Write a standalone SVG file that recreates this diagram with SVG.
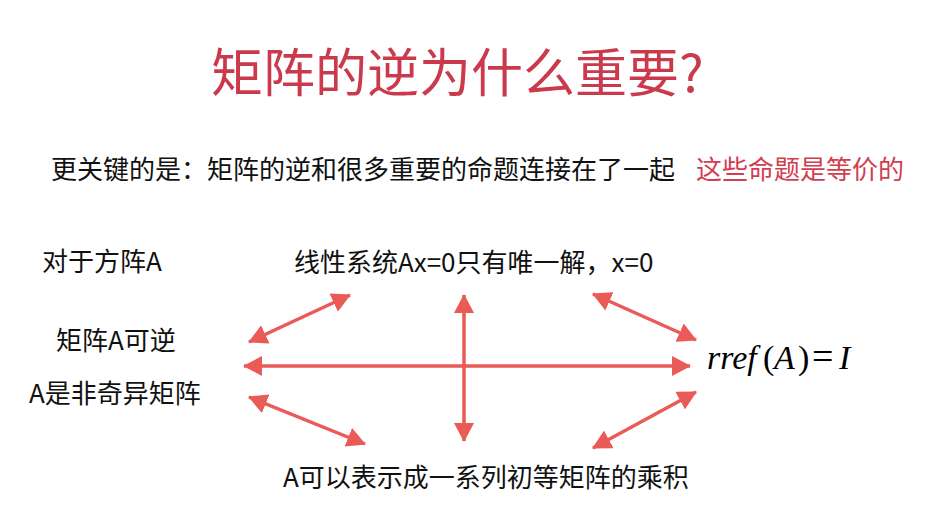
<svg xmlns="http://www.w3.org/2000/svg" width="938" height="514" viewBox="0 0 938 514">
<style>
.cjk{font-family:"Noto Sans CJK SC","Noto Sans",sans-serif;font-size:26px;fill:#111}
.title{font-family:"Noto Sans CJK SC","Noto Sans",sans-serif;font-size:52px;fill:#CB3A4C}
.red{fill:#D23D50}
.math{font-family:"Liberation Serif",serif;font-size:34px;fill:#000}
.arr{stroke:#EA5B58;stroke-width:3.5;fill:none;marker-start:url(#ah);marker-end:url(#ah)}
</style>
<defs>
<marker id="ah" markerUnits="userSpaceOnUse" markerWidth="20" markerHeight="20" refX="18" refY="10" orient="auto-start-reverse">
<path d="M0,0 L19,10 L0,20 Z" fill="#EA5B58"/>
</marker>
</defs>
<rect width="938" height="514" fill="#fff"/>
<g id="title"><text class="title" x="211" y="92">矩阵的逆为什么重要?</text></g>
<g id="subtitle"><text class="cjk" x="51" y="179">更关键的是：矩阵的逆和很多重要的命题连接在了一起<tspan class="red" x="696">这些命题是等价的</tspan></text></g>
<g id="n-square"><text class="cjk" x="42" y="271">对于方阵A</text></g>
<g id="n-invertible"><text class="cjk" x="56" y="350">矩阵A可逆</text></g>
<g id="n-nonsingular"><text class="cjk" x="29" y="403">A是非奇异矩阵</text></g>
<g id="n-linear"><text class="cjk" x="294" y="272">线性系统Ax=0只有唯一解，x=0</text></g>
<g id="n-elementary"><text class="cjk" x="283" y="487">A可以表示成一系列初等矩阵的乘积</text></g>
<g id="n-rref"><text class="math" y="369"><tspan x="707" font-style="italic">rref</tspan><tspan x="763">(</tspan><tspan x="774" font-style="italic">A</tspan><tspan x="798">)</tspan><tspan x="812" font-size="38">=</tspan><tspan x="839" font-style="italic">I</tspan></text></g>
<g id="connectors">
<line class="arr" x1="244" y1="366" x2="690" y2="366"/>
<line class="arr" x1="464" y1="295" x2="464" y2="441"/>
<line class="arr" x1="249" y1="342" x2="350" y2="295"/>
<line class="arr" x1="249" y1="397" x2="365" y2="444"/>
<line class="arr" x1="593" y1="294" x2="696" y2="340"/>
<line class="arr" x1="696" y1="392" x2="593" y2="448"/>
</g>
</svg>
